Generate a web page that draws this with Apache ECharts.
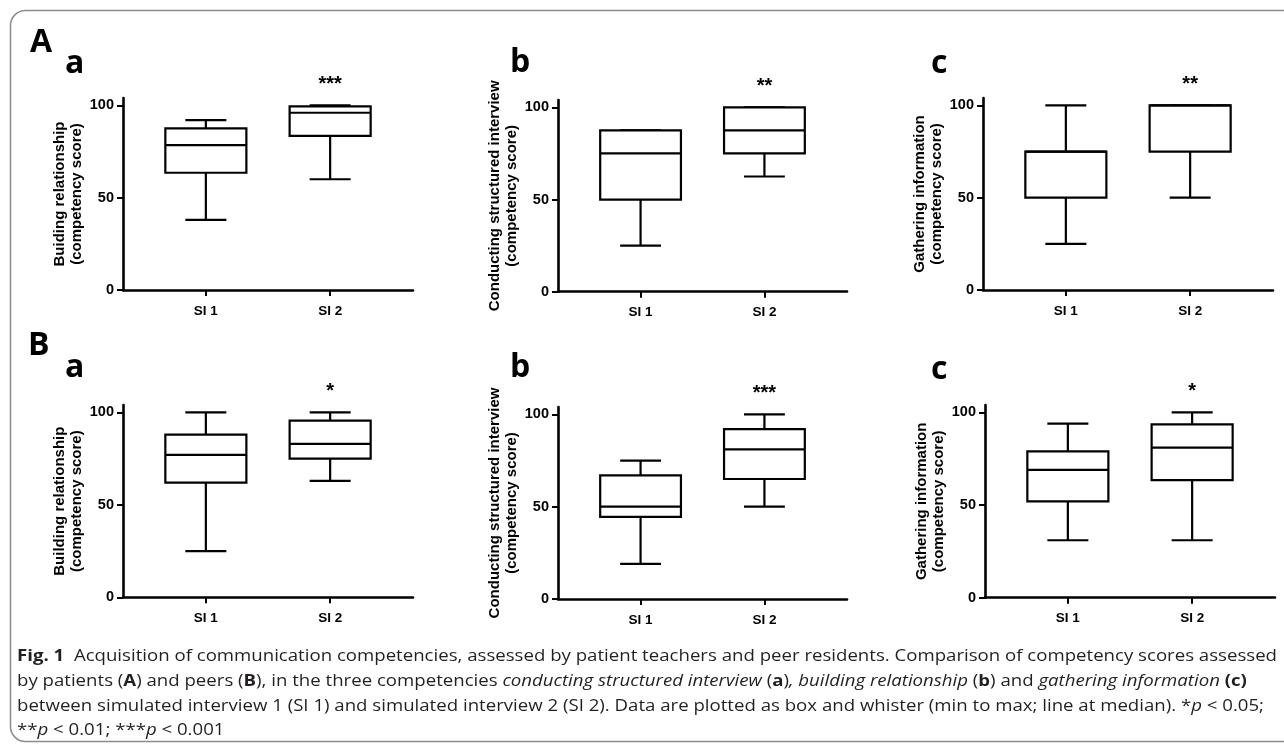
<!DOCTYPE html>
<html><head><meta charset="utf-8">
<script src="https://cdn.jsdelivr.net/npm/echarts@6/dist/echarts.min.js"></script>
<style>html,body{margin:0;padding:0;background:#fff}#c{width:1284px;height:745px}</style>
</head><body><div id="c"></div>
<script>
// ---------- data ----------
const categories = ['SI 1', 'SI 2'];
const yTickValues = [0, 50, 100];
// each entry: [min, Q1, median, Q3, max] for SI 1 and SI 2
const patientBuilding   = [[38, 63.5, 78.5, 87.5, 92],   [60, 83.5, 96, 99.5, 100]];
const patientConducting = [[25, 50, 75, 87.5, 87.5],     [62.5, 75, 87.5, 100, 100]];
const patientGathering  = [[25, 50, 75, 75, 100],        [50, 75, 100, 100, 100]];
const peerBuilding      = [[25, 62, 77, 88, 100],        [63, 75, 83, 95.5, 100]];
const peerConducting    = [[19, 44.5, 50, 67, 75],       [50, 65, 81, 92, 100]];
const peerGathering     = [[31, 52, 69, 79, 94],         [31, 63.5, 81, 93.5, 100]];
const panelData = [patientBuilding, patientConducting, patientGathering, peerBuilding, peerConducting, peerGathering];
const yNames = [
  'Buiding relationship\n(competency score)',
  'Conducting structured interview\n(competency score)',
  'Gathering information\n(competency score)',
  'Building relationship\n(competency score)',
  'Conducting structured interview\n(competency score)',
  'Gathering information\n(competency score)'
];
const significance = ['***', '**', '**', '*', '***', '*'];
const panelLetters = ['a', 'b', 'c', 'a', 'b', 'c'];
const rowLetters = ['A', 'B'];

// ---------- layout ----------
const grids = [
  {left: 123, top: 98,  width: 290, height: 192},
  {left: 558, top: 100, width: 289, height: 191.7},
  {left: 983, top: 98,  width: 290, height: 192},
  {left: 123, top: 405, width: 290, height: 192.3},
  {left: 558, top: 407, width: 289, height: 192},
  {left: 985, top: 405, width: 290, height: 192.7}
];
const BOX_W = 0.652, CAP_W = 0.33;
const FONT = '"Liberation Sans", Arial, sans-serif';

function renderBox(params, api) {
  const x = api.value(0);
  const v = [1, 2, 3, 4, 5].map(i => api.value(i));
  const unit = api.size([1, 0])[0];
  const hb = BOX_W * unit / 2, hc = CAP_W * unit / 2;
  const p = v.map(val => api.coord([x, val]));
  const cx = p[0][0];
  const st = {stroke: '#000', lineWidth: 2.2, fill: null};
  return {type: 'group', children: [
    {type: 'line', shape: {x1: cx, y1: p[0][1], x2: cx, y2: p[1][1]}, style: st},
    {type: 'line', shape: {x1: cx, y1: p[3][1], x2: cx, y2: p[4][1]}, style: st},
    {type: 'line', shape: {x1: cx - hc, y1: p[0][1], x2: cx + hc, y2: p[0][1]}, style: st},
    {type: 'line', shape: {x1: cx - hc, y1: p[4][1], x2: cx + hc, y2: p[4][1]}, style: st},
    {type: 'rect', shape: {x: cx - hb, y: p[3][1], width: 2 * hb, height: p[1][1] - p[3][1]},
      style: {stroke: '#000', lineWidth: 2.2, fill: '#fff'}},
    {type: 'line', shape: {x1: cx - hb, y1: p[2][1], x2: cx + hb, y2: p[2][1]}, style: st}
  ]};
}
function renderSig(params, api) {
  const p = api.coord([api.value(0), api.value(1)]);
  return {type: 'text', x: p[0], y: p[1] - 21,
    style: {text: significance[params.seriesIndex / 2 | 0], fill: '#000',
      font: 'bold 20px ' + FONT, align: 'center', verticalAlign: 'middle'}};
}

const option = {
  backgroundColor: '#fff',
  animation: false,
  grid: grids.map(g => Object.assign({containLabel: false}, g)),
  xAxis: grids.map((g, i) => ({
    type: 'value', gridIndex: i, min: 1 / 3, max: 8 / 3,
    splitLine: {show: false},
    axisLine: {show: true, onZero: false, lineStyle: {color: '#000', width: 2.6}},
    axisTick: {show: true, customValues: [1, 2], length: 6, lineStyle: {color: '#000', width: 2}},
    axisLabel: {customValues: [1, 2], formatter: v => categories[Math.round(v) - 1],
      color: '#000', fontWeight: 'bold', fontSize: 13.5, fontFamily: FONT, margin: 14}
  })),
  yAxis: grids.map((g, i) => ({
    type: 'value', gridIndex: i, min: 0, max: 104,
    splitLine: {show: false},
    axisLine: {show: true, lineStyle: {color: '#000', width: 2.6}},
    axisTick: {show: true, customValues: yTickValues, length: 6, lineStyle: {color: '#000', width: 2}},
    axisLabel: {customValues: yTickValues, color: '#000', fontWeight: 'bold', fontSize: 14.5,
      fontFamily: FONT, margin: 9},
    name: yNames[i], nameLocation: 'middle', nameGap: 38,
    nameTextStyle: {color: '#000', fontWeight: 'bold', fontSize: 15, fontFamily: FONT, lineHeight: 17}
  })),
  series: []
};
panelData.forEach((d, i) => {
  option.series.push({
    type: 'custom', xAxisIndex: i, yAxisIndex: i, clip: false,
    renderItem: renderBox,
    encode: {x: 0, y: [1, 2, 3, 4, 5]},
    data: d.map((row, k) => [k + 1].concat(row))
  });
  option.series.push({
    type: 'custom', xAxisIndex: i, yAxisIndex: i, clip: false,
    renderItem: renderSig,
    encode: {x: 0, y: 1},
    data: [[2, 100]]
  });
});

// ---------- caption ----------
const CAP = '"Open Sans", "Noto Sans", sans-serif';
const CAP_SIZE = 16;
const capFonts = {
  n: CAP_SIZE + 'px ' + CAP,
  b: 'bold ' + CAP_SIZE + 'px ' + CAP,
  i: 'italic ' + CAP_SIZE + 'px ' + CAP
};
const captionLines = [
  [['b', 'Fig. 1'], ['n', '  Acquisition of communication competencies, assessed by patient teachers and peer residents. Comparison of competency scores assessed']],
  [['n', 'by patients ('], ['b', 'A'], ['n', ') and peers ('], ['b', 'B'], ['n', '), in the three competencies '],
   ['i', 'conducting structured interview'], ['n', ' ('], ['b', 'a'], ['n', ')'], ['i', ', building relationship'],
   ['n', ' ('], ['b', 'b'], ['n', ') and '], ['i', 'gathering information'], ['n', ' '], ['b', '(c)']],
  [['n', 'between simulated interview 1 (SI 1) and simulated interview 2 (SI 2). Data are plotted as box and whister (min to max; line at median). *'],
   ['i', 'p'], ['n', ' < 0.05;']],
  [['n', '**'], ['i', 'p'], ['n', ' < 0.01; ***'], ['i', 'p'], ['n', ' < 0.001']]
];
const ctx = document.createElement('canvas').getContext('2d');
function lineWidth(segs) {
  return segs.reduce((s, seg) => { ctx.font = capFonts[seg[0]]; return s + ctx.measureText(seg[1]).width; }, 0);
}
const capScale = 1260 / lineWidth(captionLines[0]);
const capColor = '#231f20';
const rich = {
  n: {font: capFonts.n, fill: capColor},
  b: {font: capFonts.b, fill: capColor},
  i: {font: capFonts.i, fill: capColor}
};
const captionY = [656, 681, 706, 730];

const graphics = [
  {type: 'rect', silent: true, shape: {x: 10.5, y: 10.5, width: 1300, height: 731, r: 15},
    style: {fill: null, stroke: '#8c8c8c', lineWidth: 1.5}}
];
captionLines.forEach((segs, k) => {
  graphics.push({type: 'text', x: 17, y: captionY[k], scaleX: capScale,
    style: {text: segs.map(s => '{' + s[0] + '|' + s[1] + '}').join(''), rich: rich,
      verticalAlign: 'middle', align: 'left'}});
});
const letterFont = 'bold 32px "Open Sans", sans-serif';
const rowPos = [[30, 42.5], [28, 346]];
rowLetters.forEach((t, k) => graphics.push({type: 'text', x: rowPos[k][0], y: rowPos[k][1],
  style: {text: t, font: letterFont, fill: '#000', verticalAlign: 'middle'}}));
const letterPos = [[65, 64], [510, 63], [931, 64], [65, 368], [510, 368], [931, 370]];
panelLetters.forEach((t, k) => graphics.push({type: 'text', x: letterPos[k][0], y: letterPos[k][1],
  style: {text: t, font: letterFont, fill: '#000', verticalAlign: 'middle'}}));
option.graphic = graphics;

const chart = echarts.init(document.getElementById('c'));
chart.setOption(option);
</script></body></html>
